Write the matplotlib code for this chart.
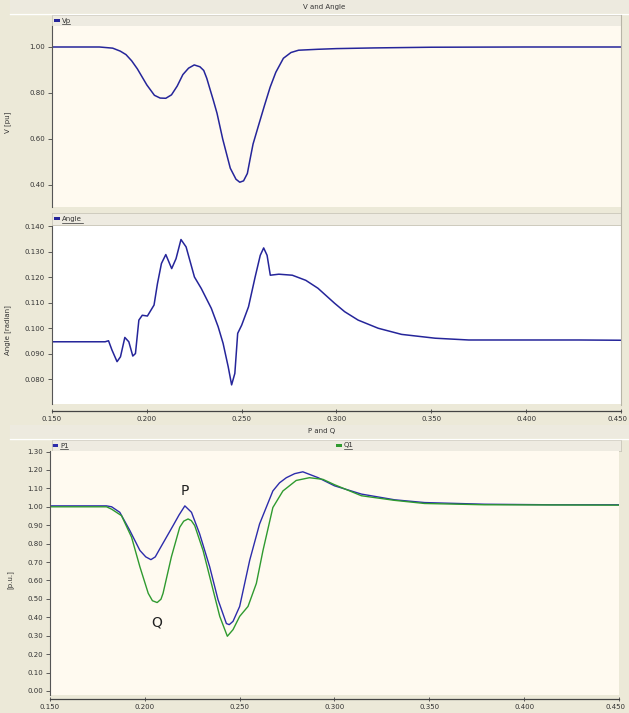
import matplotlib
matplotlib.use("Agg")
import matplotlib.pyplot as plt
import matplotlib.transforms as mtransforms
from matplotlib.patches import Rectangle
from matplotlib.lines import Line2D
import numpy as np

W, H = 629, 713

# --- data ---
t_v = [0.150, 0.175, 0.182, 0.186, 0.189, 0.192, 0.195, 0.200, 0.204, 0.207, 0.210,
       0.213, 0.216, 0.219, 0.222, 0.225, 0.228, 0.230, 0.2316, 0.233, 0.235, 0.237,
       0.240, 0.244, 0.247, 0.249, 0.251, 0.253, 0.2545, 0.256, 0.259, 0.262, 0.265,
       0.268, 0.272, 0.276, 0.280, 0.290, 0.300, 0.320, 0.350, 0.400, 0.450]
v = [1.000, 1.000, 0.995, 0.982, 0.967, 0.940, 0.905, 0.835, 0.790, 0.778, 0.777,
     0.792, 0.830, 0.880, 0.908, 0.922, 0.914, 0.898, 0.864, 0.825, 0.770, 0.712,
     0.600, 0.473, 0.425, 0.412, 0.418, 0.450, 0.515, 0.578, 0.662, 0.745, 0.825,
     0.890, 0.951, 0.976, 0.986, 0.990, 0.993, 0.996, 0.999, 1.000, 1.000]

t_a = [0.150, 0.178, 0.1798, 0.1816, 0.1843, 0.1861, 0.1884, 0.1905, 0.1926, 0.1940,
       0.1958, 0.1976, 0.2003, 0.2038, 0.2056, 0.2077, 0.2100, 0.2131, 0.2154, 0.2180,
       0.2207, 0.2251, 0.2287, 0.2340, 0.2376, 0.2402, 0.2429, 0.2447, 0.2464, 0.2479,
       0.2500, 0.2536, 0.2571, 0.2598, 0.2616, 0.2634, 0.2651, 0.2696, 0.2767, 0.2838,
       0.2902, 0.2990, 0.3043, 0.3114, 0.3220, 0.3343, 0.3520, 0.3697, 0.4279, 0.450]
angle = [0.0946, 0.0946, 0.0950, 0.0914, 0.0868, 0.0887, 0.0963, 0.0946, 0.0890, 0.0900,
         0.1031, 0.1050, 0.1047, 0.1090, 0.1174, 0.1253, 0.1288, 0.1233, 0.1272, 0.1347,
         0.1318, 0.1200, 0.1155, 0.1077, 0.1005, 0.0940, 0.0848, 0.0777, 0.0822, 0.0979,
         0.1011, 0.1083, 0.1200, 0.1285, 0.1314, 0.1285, 0.1207, 0.1211, 0.1207, 0.1187,
         0.1156, 0.1097, 0.1064, 0.1031, 0.0999, 0.0975, 0.0960, 0.0953, 0.0953, 0.0952]

t_p = [0.150, 0.1798, 0.1825, 0.1868, 0.1921, 0.1974, 0.2005, 0.2032, 0.2055, 0.2079,
       0.2149, 0.2180, 0.2211, 0.2246, 0.2289, 0.2342, 0.2386, 0.2430, 0.2445, 0.2465,
       0.2500, 0.2553, 0.2605, 0.2675, 0.2710, 0.2746, 0.2790, 0.2833, 0.2914, 0.300,
       0.3142, 0.3317, 0.3475, 0.3791, 0.4142, 0.450]
p = [1.005, 1.005, 1.000, 0.970, 0.871, 0.763, 0.728, 0.713, 0.728, 0.772,
     0.898, 0.955, 1.005, 0.970, 0.853, 0.674, 0.495, 0.366, 0.360, 0.378,
     0.459, 0.710, 0.907, 1.086, 1.130, 1.158, 1.180, 1.190, 1.158, 1.114,
     1.069, 1.038, 1.023, 1.014, 1.011, 1.011]

t_q = [0.150, 0.1798, 0.1825, 0.1877, 0.1930, 0.1974, 0.2018, 0.2040, 0.2065, 0.2085,
       0.2096, 0.2140, 0.2184, 0.2205, 0.2228, 0.2245, 0.2263, 0.2307, 0.2351, 0.2395,
       0.2435, 0.2465, 0.2500, 0.2544, 0.2588, 0.2623, 0.2675, 0.2728, 0.2798, 0.2868,
       0.2939, 0.300, 0.3142, 0.3317, 0.3475, 0.3791, 0.4142, 0.450]
q = [1.000, 1.000, 0.987, 0.952, 0.835, 0.674, 0.530, 0.490, 0.480, 0.498,
     0.530, 0.728, 0.889, 0.922, 0.934, 0.925, 0.898, 0.763, 0.584, 0.405,
     0.297, 0.333, 0.405, 0.459, 0.584, 0.763, 0.996, 1.086, 1.143, 1.158,
     1.149, 1.120, 1.060, 1.035, 1.018, 1.011, 1.010, 1.009]

x_ticks = [0.150, 0.200, 0.250, 0.300, 0.350, 0.400, 0.450]

BG = '#ECE9D8'
CREAM = '#FFFAF0'
NAVY = '#25259a'
BLUE = '#2c2cab'
GREEN = '#2f9a2f'
TXT = '#333333'


def box(x0, y0, x1, y1):
    # pixel box (top-left origin) -> figure rect
    return [x0 / W, 1 - y1 / H, (x1 - x0) / W, (y1 - y0) / H]


def fx(x):
    return x / W


def fy(y):
    return 1 - y / H


fig = plt.figure(figsize=(W / 100, H / 100), dpi=100, facecolor=BG)

# title bars and separators
for y0, y1, label, cx in [(0, 13, 'V and Angle', 324), (425, 438, 'P and Q', 322)]:
    fig.patches.append(Rectangle((fx(10), fy(y1)), fx(619), (y1 - y0) / H,
                                 transform=fig.transFigure, facecolor='#EDEADF',
                                 edgecolor='none', zorder=0))
    fig.text(fx(cx), fy((y0 + y1) / 2), label, fontsize=5, color=TXT,
             ha='center', va='center')
    fig.add_artist(Line2D([fx(10), 1], [fy(y1 + 1), fy(y1 + 1)], color='white', lw=1))

# right gray strip / scroll edge
fig.add_artist(Line2D([fx(621), fx(621)], [fy(15), fy(405)], color='#B8B5A8', lw=0.8))


def legend_strip(y0, y1, entries):
    sax = fig.add_axes(box(52, y0, 621, y1))
    sax.set_facecolor('#EEEBE1')
    sax.set_xticks([])
    sax.set_yticks([])
    for s in sax.spines.values():
        s.set_color('#C9C6B9')
        s.set_linewidth(0.6)
    for xpix, name, col in entries:
        xm = (xpix - 52) / 569
        sax.add_patch(Rectangle((xm, 0.4), 6 / 569, 0.25, transform=sax.transAxes,
                                facecolor=col, edgecolor='none'))
        tx = xm + 8 / 569
        sax.text(tx, 0.5, name, fontsize=5, color=TXT, va='center', ha='left',
                 transform=sax.transAxes)
        sax.add_line(Line2D([tx, tx + 4.2 * len(name) / 569], [0.15, 0.15],
                            transform=sax.transAxes, color=TXT, lw=0.5))
    return sax


legend_strip(15, 26, [(54, 'Vp', NAVY)])
legend_strip(213, 225, [(54, 'Angle', NAVY)])
legend_strip(440, 451, [(52, 'P1', BLUE), (336, 'Q1', GREEN)])


def style_y(ax, ticks, fmt):
    ax.set_yticks(ticks)
    ax.set_yticklabels([fmt.format(t) for t in ticks])
    ax.tick_params(axis='y', labelsize=5, labelcolor=TXT, length=3, width=0.6,
                   color='#444444', pad=2)
    ax.spines['left'].set_color('#555555')
    ax.spines['left'].set_linewidth(0.8)
    for side in ['top', 'right']:
        ax.spines[side].set_visible(False)


def style_x(ax, offset):
    ax.set_xticks(x_ticks)
    ax.set_xticklabels(['{:.3f}'.format(t) for t in x_ticks])
    ax.spines['bottom'].set_position(('outward', offset))
    ax.spines['bottom'].set_color('#444444')
    ax.spines['bottom'].set_linewidth(0.9)
    ax.tick_params(axis='x', labelsize=5, labelcolor=TXT, direction='inout',
                   length=3, width=0.6, color='#444444', pad=2)
    last = ax.get_xticklabels()[-1]
    last.set_transform(last.get_transform() +
                       mtransforms.ScaledTranslation(-3 / 100, 0, fig.dpi_scale_trans))


# panel 1: V
ax1 = fig.add_axes(box(52, 26, 621, 207))
ax1.set_facecolor(CREAM)
ax1.plot(t_v, v, color=NAVY, lw=1.1)
ax1.set_xlim(0.15, 0.45)
ax1.set_ylim(0.3043, 1.0913)
style_y(ax1, [0.40, 0.60, 0.80, 1.00], '{:.2f}')
ax1.set_xticks([])
ax1.spines['bottom'].set_visible(False)
fig.text(fx(8), fy(122), 'V [pu]', rotation=90, fontsize=5, color=TXT,
         ha='center', va='center')

# panel 2: Angle
ax2 = fig.add_axes(box(52, 226, 621, 404))
ax2.set_facecolor('white')
ax2.plot(t_a, angle, color=NAVY, lw=1.1)
ax2.set_xlim(0.15, 0.45)
ax2.set_ylim(0.0702, 0.140)
style_y(ax2, [0.080, 0.090, 0.100, 0.110, 0.120, 0.130, 0.140], '{:.3f}')
style_x(ax2, 5)
fig.text(fx(8), fy(330), 'Angle [radian]', rotation=90, fontsize=5, color=TXT,
         ha='center', va='center')

# panel 3: P and Q
ax3 = fig.add_axes(box(50, 451, 619, 695))
ax3.set_facecolor(CREAM)
ax3.plot(t_p, p, color=BLUE, lw=1.0)
ax3.plot(t_q, q, color=GREEN, lw=1.0)
ax3.set_xlim(0.15, 0.45)
ax3.set_ylim(-0.022, 1.303)
style_y(ax3, list(np.round(np.arange(0, 1.31, 0.1), 2)), '{:.2f}')
style_x(ax3, 3)
fig.text(fx(10), fy(580), '[p.u.]', rotation=90, fontsize=5, color=TXT,
         ha='center', va='center')
ax3.text(0.2211, 1.086, 'P', fontsize=10, color='#222222', ha='center', va='center')
ax3.text(0.2063, 0.373, 'Q', fontsize=10, color='#222222', ha='center', va='center')

fig.savefig('out.png', dpi=100, facecolor=BG)
